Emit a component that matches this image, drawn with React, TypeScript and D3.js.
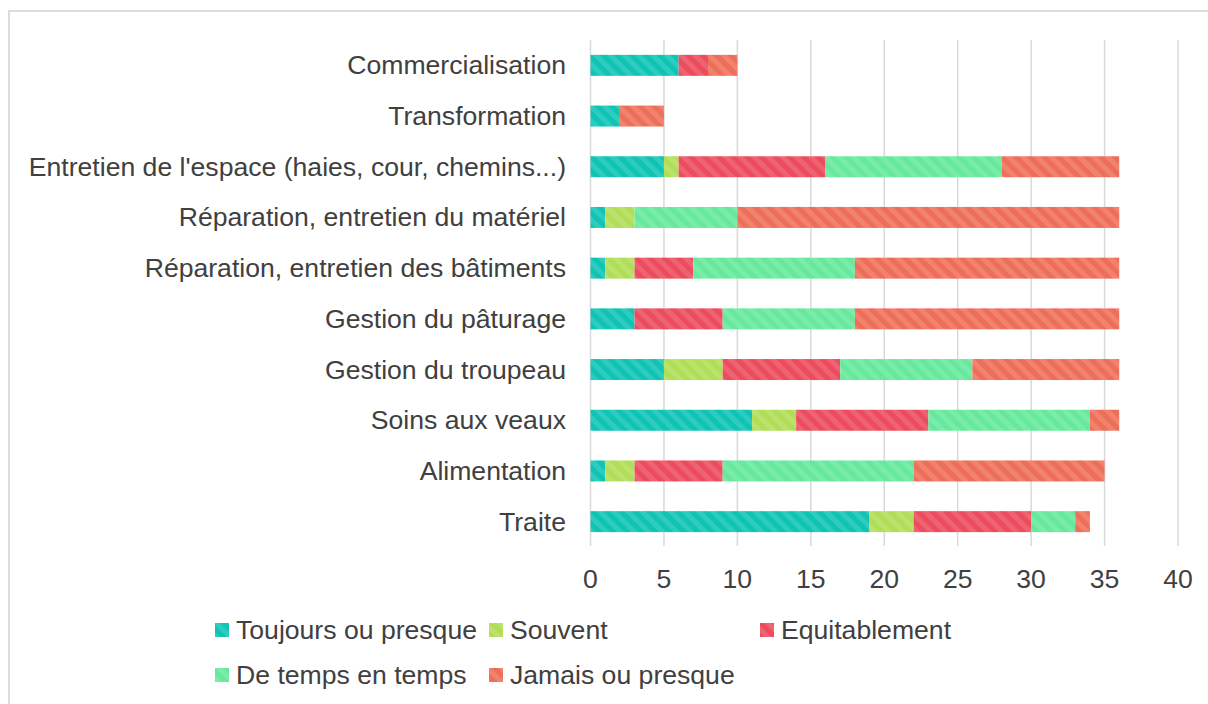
import React from "react";
import * as d3 from "d3";

const categories = [
  "Commercialisation",
  "Transformation",
  "Entretien de l'espace (haies, cour, chemins...)",
  "Réparation, entretien du matériel",
  "Réparation, entretien des bâtiments",
  "Gestion du pâturage",
  "Gestion du troupeau",
  "Soins aux veaux",
  "Alimentation",
  "Traite",
];

const seriesNames = [
  "Toujours ou presque",
  "Souvent",
  "Equitablement",
  "De temps en temps",
  "Jamais ou presque",
];

const toujours = [6, 2, 5, 1, 1, 3, 5, 11, 1, 19];
const souvent = [0, 0, 1, 2, 2, 0, 4, 3, 2, 3];
const equitablement = [2, 0, 10, 0, 4, 6, 8, 9, 6, 8];
const deTemps = [0, 0, 12, 7, 11, 9, 9, 11, 13, 3];
const jamais = [2, 3, 8, 26, 18, 18, 10, 2, 13, 1];

const xTicks = [0, 5, 10, 15, 20, 25, 30, 35, 40];

const colors = ["#0fc3b5", "#b0de56", "#ec4c5d", "#66e99c", "#ee6f59"];

const seriesValues = [toujours, souvent, equitablement, deTemps, jamais];

export default function App() {
  const W = 1208;
  const H = 704;
  const x = d3.scaleLinear().domain([0, 40]).range([590.5, 1178]);
  const y = d3
    .scaleBand<string>()
    .domain(categories)
    .range([40, 547])
    .paddingInner(0.586)
    .paddingOuter(0.293);

  const rows = categories.map((c, i) => {
    const r: Record<string, number | string> = { cat: c };
    seriesNames.forEach((s, j) => (r[s] = seriesValues[j][i]));
    return r;
  });
  const stack = d3.stack<any>().keys(seriesNames)(rows);

  const font = "'Liberation Sans', Arial, sans-serif";
  const textColor = "#404040";
  const fs = 26.6;

  const legendPos = [
    { x: 215, y: 630 },
    { x: 489, y: 630 },
    { x: 760, y: 630 },
    { x: 215, y: 675 },
    { x: 489, y: 675 },
  ];

  return (
    <svg
      width={W}
      height={H}
      style={{ position: "absolute", left: 0, top: 0, background: "#fff" }}
      fontFamily={font}
    >
      <defs>
        {colors.map((c, i) => (
          <pattern
            key={i}
            id={`pat${i}`}
            patternUnits="userSpaceOnUse"
            width={10}
            height={10}
            patternTransform="rotate(-45)"
          >
            <rect width={10} height={10} fill={c} />
            <rect width={5} height={10} fill="#ffffff" fillOpacity={0.13} />
          </pattern>
        ))}
      </defs>
      <rect x={0} y={0} width={W} height={H} fill="#fff" />
      <rect
        x={9}
        y={11}
        width={W + 20}
        height={H + 20}
        fill="none"
        stroke="#d9d9d9"
        strokeWidth={1.8}
      />
      {xTicks.map((t) => (
        <line
          key={t}
          x1={x(t)}
          x2={x(t)}
          y1={40}
          y2={546}
          stroke="#d9d9d9"
          strokeWidth={1.5}
        />
      ))}
      {stack.map((layer, i) => (
        <g key={i} fill={`url(#pat${i})`}>
          {layer.map((d, j) =>
            d[1] - d[0] > 0 ? (
              <rect
                key={j}
                x={x(d[0])}
                y={y(categories[j])}
                width={x(d[1]) - x(d[0])}
                height={y.bandwidth()}
              />
            ) : null
          )}
        </g>
      ))}
      {categories.map((c) => (
        <text
          key={c}
          x={566}
          y={(y(c) as number) + y.bandwidth() / 2}
          textAnchor="end"
          dominantBaseline="central"
          fontSize={fs}
          fill={textColor}
        >
          {c}
        </text>
      ))}
      {xTicks.map((t) => (
        <text
          key={t}
          x={x(t)}
          y={579}
          textAnchor="middle"
          dominantBaseline="central"
          fontSize={fs}
          fill={textColor}
        >
          {t}
        </text>
      ))}
      {seriesNames.map((s, i) => (
        <g key={s}>
          <rect
            x={legendPos[i].x}
            y={legendPos[i].y - 7}
            width={14}
            height={14}
            fill={`url(#pat${i})`}
          />
          <text
            x={legendPos[i].x + 21}
            y={legendPos[i].y}
            dominantBaseline="central"
            fontSize={fs}
            fill={textColor}
          >
            {s}
          </text>
        </g>
      ))}
    </svg>
  );
}
